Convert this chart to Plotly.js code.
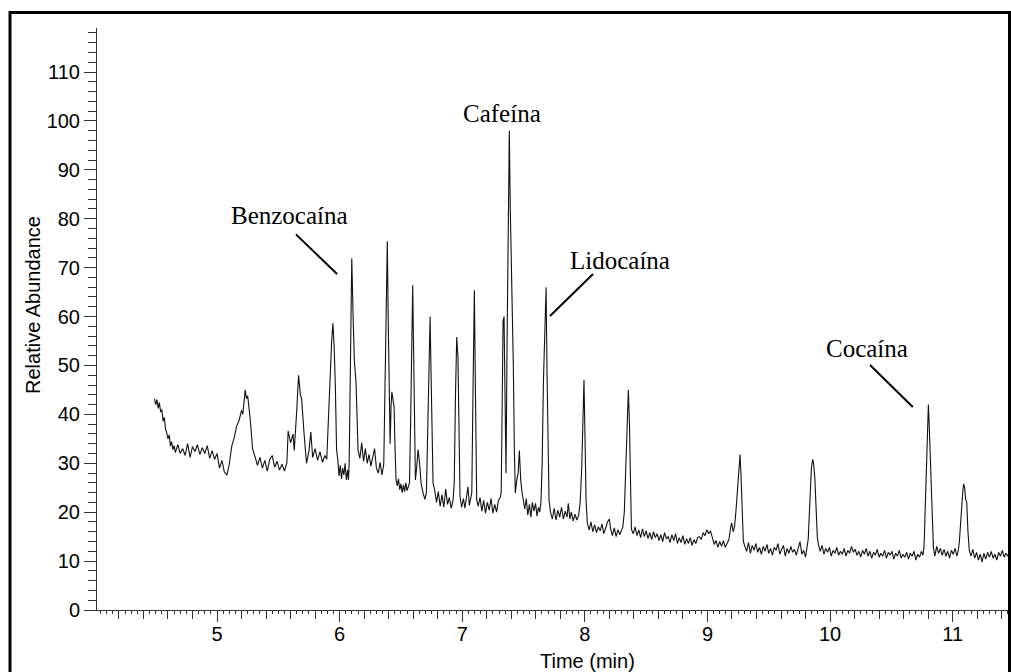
<!DOCTYPE html>
<html>
<head>
<meta charset="utf-8">
<script src="https://cdn.plot.ly/plotly-3.0.1.min.js"></script>
<style>
  html, body { margin: 0; padding: 0; background: #fff; }
  #chart { width: 1011px; height: 672px; }
</style>
</head>
<body>
<div id="chart"></div>
<script>
// Total ion chromatogram: [time (min), relative abundance (%)]
const ticPoints = [
  [4.49,43.2],[4.50,42.0],[4.51,43.0],[4.52,41.2],[4.53,42.4],[4.54,40.5],[4.55,41.0],[4.56,38.6],[4.57,39.4],[4.58,37.0],
  [4.59,36.2],[4.60,35.0],[4.61,35.8],[4.62,33.5],[4.63,34.4],[4.64,32.8],[4.65,33.6],[4.66,32.2],
  [4.68,33.8],[4.70,32.0],[4.72,33.0],[4.74,31.6],[4.76,34.0],[4.78,31.2],[4.80,33.4],[4.82,32.4],[4.84,33.8],[4.86,31.8],
  [4.88,33.2],[4.90,32.0],[4.92,33.6],[4.94,31.0],[4.96,32.6],[4.98,30.8],
  [5.00,32.0],[5.02,29.0],[5.04,30.6],[5.06,28.2],[5.08,27.6],[5.10,29.8],[5.12,33.5],[5.14,35.2],[5.16,37.6],[5.18,38.8],
  [5.20,40.8],[5.21,40.0],[5.23,45.0],[5.24,43.2],[5.25,43.8],[5.27,39.2],[5.29,33.0],
  [5.31,31.4],[5.33,29.6],[5.35,31.2],[5.37,29.0],[5.39,30.6],[5.41,28.4],[5.43,30.8],[5.45,31.6],[5.47,29.2],[5.49,30.4],
  [5.51,28.6],[5.53,29.8],[5.55,28.4],[5.57,30.2],
  [5.58,36.6],[5.60,34.2],[5.62,36.0],[5.63,32.6],[5.65,40.8],[5.665,48.0],[5.68,44.0],[5.69,43.2],[5.71,36.0],[5.73,30.0],
  [5.75,32.6],[5.765,36.4],[5.78,31.2],[5.80,33.0],[5.82,30.6],[5.84,32.4],[5.86,30.2],[5.88,31.6],[5.895,30.8],
  [5.91,40.5],[5.925,47.5],[5.935,55.0],[5.945,58.6],[5.955,54.0],[5.965,46.0],[5.975,32.7],
  [5.985,30.8],[5.995,27.4],[6.005,29.6],[6.015,26.8],[6.025,29.0],[6.035,27.6],[6.045,30.0],[6.055,26.6],[6.065,28.6],[6.072,26.6],
  [6.078,30.0],[6.088,52.0],[6.099,71.9],[6.11,60.0],[6.12,51.0],[6.134,46.4],[6.15,32.7],
  [6.165,31.0],[6.18,34.2],[6.195,30.4],[6.21,33.0],[6.225,30.0],[6.24,31.8],[6.255,29.4],[6.27,31.6],[6.285,33.0],[6.30,29.0],
  [6.315,28.0],[6.33,30.2],[6.345,27.6],
  [6.36,29.8],[6.372,48.0],[6.382,68.0],[6.389,75.4],[6.397,58.0],[6.405,40.0],[6.412,34.0],[6.42,42.0],[6.426,44.6],[6.435,43.0],
  [6.444,41.5],[6.452,33.0],[6.46,26.6],
  [6.47,25.4],[6.48,26.8],[6.49,24.6],[6.50,25.8],[6.51,24.0],[6.52,25.6],[6.53,24.2],[6.54,26.0],[6.55,24.4],[6.56,25.2],[6.57,26.0],
  [6.58,40.0],[6.588,56.0],[6.596,66.4],[6.604,52.0],[6.612,35.0],[6.618,26.6],
  [6.628,29.0],[6.64,32.8],[6.652,30.0],[6.665,25.8],[6.68,24.0],[6.695,22.6],[6.708,24.0],
  [6.72,36.0],[6.73,52.0],[6.738,60.0],[6.746,48.0],[6.755,33.0],[6.762,26.0],
  [6.775,24.6],[6.79,22.0],[6.805,24.2],[6.82,21.2],[6.835,23.6],[6.85,21.0],[6.865,24.8],[6.88,21.6],[6.895,23.0],[6.91,20.8],[6.925,22.4],
  [6.935,26.0],[6.945,44.0],[6.955,55.8],[6.965,51.8],[6.973,36.0],[6.982,23.2],
  [6.995,21.0],[7.01,22.8],[7.022,20.8],[7.035,23.6],[7.047,25.2],[7.058,21.4],[7.068,23.0],
  [7.078,24.0],[7.088,45.0],[7.099,65.4],[7.108,44.0],[7.118,22.5],
  [7.13,21.2],[7.145,23.0],[7.16,20.2],[7.175,22.4],[7.19,19.8],[7.205,22.0],[7.22,20.4],[7.235,22.8],[7.25,19.8],[7.265,21.6],
  [7.28,20.0],[7.295,22.4],[7.31,23.0],
  [7.318,24.0],[7.326,42.0],[7.333,59.0],[7.341,60.0],[7.35,40.0],[7.357,28.0],[7.366,55.0],[7.376,85.0],[7.384,98.0],[7.392,82.0],
  [7.404,68.8],[7.417,49.7],[7.425,33.0],[7.433,23.9],[7.445,26.6],[7.456,28.0],[7.466,32.6],[7.477,26.6],[7.488,24.0],[7.498,22.5],
  [7.51,20.6],[7.522,22.8],[7.535,19.4],[7.548,21.6],[7.56,19.0],[7.572,22.0],[7.585,20.2],[7.598,21.8],[7.61,19.2],[7.622,21.0],[7.632,20.0],
  [7.642,22.0],[7.652,30.0],[7.662,46.4],[7.674,60.0],[7.684,66.0],[7.692,48.0],[7.70,30.0],[7.708,22.5],
  [7.72,20.0],[7.735,18.6],[7.75,20.8],[7.765,18.4],[7.78,20.4],[7.795,19.0],[7.81,21.0],[7.825,18.6],[7.84,20.2],[7.855,19.0],
  [7.865,21.8],[7.878,18.6],[7.89,20.0],[7.905,18.2],[7.92,19.6],[7.935,18.4],
  [7.95,19.4],[7.962,22.0],[7.975,29.3],[7.985,40.0],[7.993,47.0],[8.001,36.0],[8.01,22.5],
  [8.02,17.8],[8.035,16.4],[8.05,18.0],[8.065,16.0],[8.08,17.4],[8.095,15.8],[8.11,17.0],[8.125,16.2],[8.14,17.6],[8.155,15.6],
  [8.17,16.8],[8.185,18.0],[8.20,18.6],[8.212,16.4],[8.225,15.2],[8.24,16.8],[8.255,15.0],[8.27,16.4],[8.285,15.4],[8.30,16.2],[8.31,17.0],
  [8.322,20.0],[8.335,30.0],[8.345,38.0],[8.355,45.0],[8.364,38.0],[8.372,25.0],[8.38,16.5],
  [8.395,15.6],[8.41,17.0],[8.425,15.2],[8.44,16.4],[8.455,14.8],[8.47,16.6],[8.485,15.0],[8.50,16.2],[8.515,14.6],[8.53,15.8],
  [8.545,14.4],[8.56,16.0],[8.575,14.8],[8.59,15.6],[8.605,14.2],[8.62,15.4],[8.635,14.0],[8.65,15.8],[8.665,14.6],[8.68,15.0],
  [8.695,13.8],[8.71,15.4],[8.725,14.2],[8.74,15.6],[8.755,13.6],[8.77,14.8],[8.785,13.8],[8.80,15.2],[8.815,13.4],[8.83,14.6],
  [8.845,13.6],[8.86,14.8],[8.875,13.2],[8.89,14.4],[8.905,13.6],[8.92,14.8],[8.935,15.0],[8.95,14.4],[8.965,15.8],[8.98,15.2],
  [8.995,16.4],[9.01,15.6],[9.025,16.2],[9.04,15.0],[9.055,13.4],[9.07,14.2],[9.085,12.8],[9.10,14.0],[9.115,13.0],[9.13,14.2],
  [9.145,12.8],[9.16,13.6],[9.175,14.4],[9.19,17.0],[9.198,17.8],[9.21,16.0],[9.222,17.2],
  [9.235,21.0],[9.245,25.0],[9.258,30.0],[9.266,31.8],[9.273,28.0],[9.28,22.5],[9.293,14.0],
  [9.305,13.0],[9.32,12.0],[9.335,13.8],[9.35,11.6],[9.365,13.2],[9.38,12.2],[9.395,13.6],[9.41,11.8],[9.425,12.8],[9.44,11.4],
  [9.455,13.0],[9.47,12.0],[9.485,13.4],[9.50,11.6],[9.515,12.6],[9.53,11.2],[9.545,12.8],[9.56,12.2],[9.575,13.6],[9.59,11.4],
  [9.605,12.4],[9.62,13.2],[9.635,11.0],[9.65,12.6],[9.665,11.6],[9.68,13.0],[9.695,11.8],[9.71,12.4],[9.725,11.2],[9.74,12.8],
  [9.755,14.0],[9.77,11.4],[9.785,12.2],[9.80,10.8],[9.81,13.0],
  [9.822,14.5],[9.83,19.0],[9.838,24.0],[9.848,29.0],[9.858,30.8],[9.866,30.0],[9.876,27.0],[9.886,21.0],[9.896,15.0],
  [9.905,13.4],[9.92,12.0],[9.935,13.2],[9.95,11.4],[9.965,12.6],[9.98,11.8],[9.995,12.8],[10.01,11.0],[10.025,12.2],[10.04,11.6],
  [10.055,12.8],[10.07,11.2],[10.085,12.0],[10.10,11.4],[10.115,12.6],[10.13,11.0],[10.145,12.2],[10.16,11.6],[10.175,13.0],[10.19,11.8],
  [10.205,12.4],[10.22,11.2],[10.235,12.0],[10.25,10.8],[10.265,12.2],[10.28,11.4],[10.295,12.6],[10.31,11.0],[10.325,12.0],[10.34,10.6],
  [10.355,11.8],[10.37,11.2],[10.385,12.4],[10.40,10.8],[10.415,11.6],[10.43,11.0],[10.445,12.2],[10.46,10.6],[10.475,11.8],[10.49,11.2],
  [10.505,12.0],[10.52,10.4],[10.535,11.6],[10.55,11.0],[10.565,12.2],[10.58,10.6],[10.595,11.4],[10.61,10.8],[10.625,11.8],[10.64,10.4],
  [10.655,11.6],[10.67,11.0],[10.685,12.0],[10.70,10.2],[10.715,11.4],[10.73,10.8],[10.745,12.0],
  [10.758,11.2],[10.767,13.0],[10.776,22.0],[10.784,30.0],[10.794,38.0],[10.802,42.0],[10.81,37.0],[10.821,29.3],[10.832,20.0],[10.843,12.8],
  [10.855,11.0],[10.87,13.0],[10.885,11.6],[10.90,12.6],[10.915,11.2],[10.93,12.4],[10.945,11.0],[10.96,12.0],[10.975,10.6],[10.99,12.2],
  [11.005,11.4],[11.02,12.6],[11.035,11.0],[11.045,12.0],
  [11.055,14.0],[11.062,17.0],[11.072,21.0],[11.082,24.0],[11.09,25.8],[11.098,25.0],[11.106,22.6],[11.115,22.0],[11.125,16.0],[11.136,12.2],
  [11.15,11.0],[11.165,12.4],[11.18,10.6],[11.195,11.8],[11.21,10.2],[11.225,11.4],[11.24,9.8],[11.255,11.6],[11.27,10.4],[11.285,11.8],
  [11.30,10.8],[11.315,12.0],[11.33,10.6],[11.345,11.4],[11.36,10.2],[11.375,11.8],[11.39,11.0],[11.405,12.2],[11.42,10.8],[11.435,11.6],
  [11.45,11.0],[11.465,12.0],[11.48,11.4]
];
const timeMin = ticPoints.map(p => p[0]);
const abundance = ticPoints.map(p => p[1]);

// Compound names shown above their peaks
const peakLabels = ['Benzocaína', 'Cafeína', 'Lidocaína', 'Cocaína'];

// Axis tick values
const xMajorTicks = [5, 6, 7, 8, 9, 10, 11];
const yMajorTicks = [0, 10, 20, 30, 40, 50, 60, 70, 80, 90, 100, 110];

const xRange = [4.021, 11.476];
const yRange = [0, 119];

const sans = 'Liberation Sans, Arial, Helvetica, sans-serif';
const serif = 'Liberation Serif, Times New Roman, serif';
const axisColor = '#333';

const traces = [
  {
    x: timeMin, y: abundance, type: 'scatter', mode: 'lines',
    line: { color: '#111', width: 1.1 }, hoverinfo: 'skip', showlegend: false
  },
  // carrier for the secondary (0.2 min) tick axis
  { x: [], y: [], xaxis: 'x2', yaxis: 'y', type: 'scatter', mode: 'lines', showlegend: false, hoverinfo: 'skip' }
];

// label placement (data coordinates) and leader lines
const labelPos = [[5.587, 80.7], [7.322, 101.6], [8.287, 71.5], [10.30, 53.5]];
const leaders = [
  [5.644, 76.8, 5.979, 68.7],
  [8.067, 68.7, 7.716, 60.1],
  [10.326, 50.1, 10.675, 41.5]
];

const annotations = peakLabels.map((name, i) => ({
  x: labelPos[i][0], y: labelPos[i][1], xref: 'x', yref: 'y',
  text: name, showarrow: false, xanchor: 'center', yanchor: 'middle',
  font: { family: serif, size: 25, color: '#000' }
}));

// axis titles
annotations.push({
  x: (587 - 97) / 914, y: -0.088, xref: 'paper', yref: 'paper',
  text: 'Time (min)', showarrow: false, xanchor: 'center', yanchor: 'middle',
  font: { family: sans, size: 20, color: '#000' }
});
annotations.push({
  x: (33 - 97) / 914, y: (610 - 305) / 582, xref: 'paper', yref: 'paper',
  text: 'Relative Abundance', textangle: -90, showarrow: false,
  xanchor: 'center', yanchor: 'middle',
  font: { family: sans, size: 20, color: '#000' }
});

const shapes = leaders.map(l => ({
  type: 'line', xref: 'x', yref: 'y', x0: l[0], y0: l[1], x1: l[2], y1: l[3],
  line: { color: '#000', width: 2 }
}));

// outer frame
shapes.push({
  type: 'rect', xref: 'paper', yref: 'paper',
  x0: (10 - 97) / 914, x1: (1009.5 - 97) / 914,
  y0: (610 - 690) / 582, y1: (610 - 12.5) / 582,
  line: { color: '#000', width: 3 }, fillcolor: 'rgba(0,0,0,0)', layer: 'above'
});

const layout = {
  width: 1011, height: 672,
  margin: { l: 97, r: 0, t: 28, b: 62, pad: 0 },
  paper_bgcolor: '#fff', plot_bgcolor: '#fff',
  showlegend: false,
  font: { family: sans, size: 20, color: '#000' },
  xaxis: {
    range: xRange, showgrid: false, zeroline: false,
    showline: true, linecolor: axisColor, linewidth: 1,
    tickmode: 'array', tickvals: xMajorTicks, ticktext: xMajorTicks.map(String),
    ticks: 'outside', ticklen: 11, tickwidth: 1, tickcolor: axisColor,
    ticklabelstandoff: -5,
    tickfont: { family: sans, size: 20, color: '#000' },
    minor: { dtick: 0.05, tick0: 0, ticks: 'outside', ticklen: 3, tickwidth: 1, tickcolor: axisColor, showgrid: false }
  },
  xaxis2: {
    overlaying: 'x', anchor: 'y', side: 'bottom', range: xRange,
    showgrid: false, zeroline: false, showline: false, showticklabels: false,
    tickmode: 'linear', tick0: 0, dtick: 0.2,
    ticks: 'outside', ticklen: 8, tickwidth: 1, tickcolor: axisColor
  },
  yaxis: {
    range: yRange, showgrid: false, zeroline: false,
    showline: true, linecolor: axisColor, linewidth: 1,
    tickmode: 'array', tickvals: yMajorTicks, ticktext: yMajorTicks.map(String),
    ticks: 'outside', ticklen: 12, tickwidth: 1, tickcolor: axisColor,
    tickfont: { family: sans, size: 20, color: '#000' },
    minor: { dtick: 2, tick0: 0, ticks: 'outside', ticklen: 8, tickwidth: 1, tickcolor: axisColor, showgrid: false }
  },
  annotations: annotations,
  shapes: shapes
};

Plotly.newPlot('chart', traces, layout, { staticPlot: true, displayModeBar: false });
</script>
</body>
</html>
